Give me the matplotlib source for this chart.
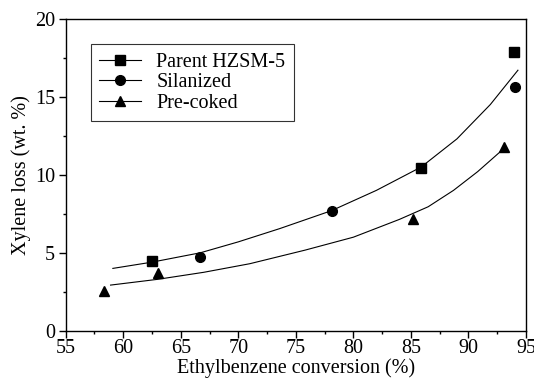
import matplotlib
matplotlib.use("Agg")
import matplotlib.pyplot as plt
from matplotlib.ticker import MultipleLocator
from matplotlib.lines import Line2D

# measured data points
parent_x = [62.5, 85.9, 94.0]
parent_y = [4.5, 10.45, 17.85]
silan_x = [66.7, 78.1, 94.05]
silan_y = [4.7, 7.65, 15.6]
precoked_x = [58.3, 63.05, 85.2, 93.1]
precoked_y = [2.52, 3.68, 7.18, 11.8]

# fitted trend curves
fit_upper_x = [59.1, 62.5, 66.7, 70.0, 73.6, 78.1, 82.0, 85.9, 89.0, 91.9, 94.3]
fit_upper_y = [4.0, 4.4, 5.0, 5.7, 6.55, 7.7, 9.0, 10.5, 12.3, 14.5, 16.7]
fit_lower_x = [58.9, 63.0, 67.0, 71.0, 75.8, 80.0, 84.0, 86.5, 88.7, 90.8, 92.8]
fit_lower_y = [2.93, 3.3, 3.75, 4.3, 5.17, 6.0, 7.14, 7.95, 9.0, 10.2, 11.5]

labels = ["Parent HZSM-5", "Silanized", "Pre-coked"]

plt.rcParams['font.family'] = ['Liberation Serif', 'DejaVu Serif']
FS = 14.5

fig = plt.figure(figsize=(5.34, 3.82), dpi=100)
ax = fig.add_axes([0.123, 0.134, 0.862, 0.817])

ax.plot(fit_upper_x, fit_upper_y, color='black', lw=0.8)
ax.plot(fit_lower_x, fit_lower_y, color='black', lw=0.8)

ms = 7
ax.plot(parent_x, parent_y, ls='none', marker='s', ms=ms, color='black')
ax.plot(silan_x, silan_y, ls='none', marker='o', ms=ms, color='black')
ax.plot(precoked_x, precoked_y, ls='none', marker='^', ms=ms, color='black')

handles = [Line2D([], [], color='black', lw=0.8, marker=m, ms=ms) for m in ['s', 'o', '^']]
leg = ax.legend(handles, labels, loc='upper left', bbox_to_anchor=(0.055, 0.919),
                borderaxespad=0, frameon=True, fancybox=False, numpoints=1,
                handlelength=2.07, handletextpad=0.75, borderpad=0.42,
                labelspacing=0.08, fontsize=FS)
leg.get_frame().set_edgecolor('black')
leg.get_frame().set_linewidth(0.8)

ax.set_xlim(55, 95)
ax.set_ylim(0, 20)
ax.xaxis.set_major_locator(MultipleLocator(5))
ax.xaxis.set_minor_locator(MultipleLocator(2.5))
ax.yaxis.set_major_locator(MultipleLocator(5))
ax.yaxis.set_minor_locator(MultipleLocator(2.5))
ax.tick_params(which='both', direction='out', top=False, right=False, width=1.0)
ax.tick_params(which='major', length=4.8, labelsize=FS)
ax.tick_params(axis='x', which='major', pad=1)
ax.tick_params(axis='y', which='major', pad=3)
ax.tick_params(which='minor', length=2.5)
for s in ax.spines.values():
    s.set_linewidth(1.0)

ax.set_xlabel("Ethylbenzene conversion (%)", fontsize=FS, labelpad=0)
ax.set_ylabel("Xylene loss (wt. %)", fontsize=FS, labelpad=3)

fig.savefig("out.png", dpi=100)
